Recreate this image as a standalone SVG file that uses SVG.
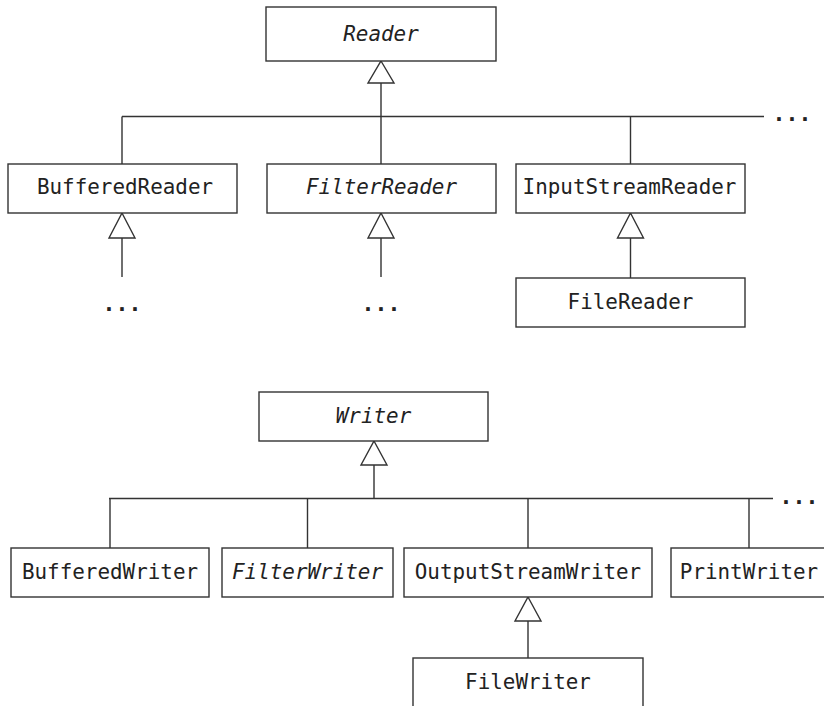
<svg xmlns="http://www.w3.org/2000/svg" width="824" height="706" viewBox="0 0 824 706">
<style>
.box{fill:#fff;stroke:#333;stroke-width:1.4}
.ln{fill:none;stroke:#333;stroke-width:1.4}
.tri{fill:#fff;stroke:#333;stroke-width:1.4;stroke-linejoin:miter}
text{font-family:"DejaVu Sans Mono","Liberation Mono",monospace;font-size:20.9px;fill:#222;text-anchor:middle}
.it{font-style:italic}
.dots{font-size:21.5px;font-weight:bold}
</style>
<rect width="824" height="706" fill="#fff"/>
<g id="connectors">
  <path class="ln" d="M381 83V116.5M122 116.5H764M122 116.5V164M381 116.5V164M630.5 116.5V164"/>
  <path class="ln" d="M122 238V277M381 238V277M630.5 238V278"/>
  <path class="ln" d="M374 465V498.5M109 498.5H773M110 498.5V548M307.5 498.5V548M528 498.5V548M749 498.5V548"/>
  <path class="ln" d="M528 621V658"/>
  <polygon class="tri" points="381,61 394,83 368,83"/>
  <polygon class="tri" points="122,213 135,238 109,238"/>
  <polygon class="tri" points="381,213 394,238 368,238"/>
  <polygon class="tri" points="630.5,213 643.5,238 617.5,238"/>
  <polygon class="tri" points="374,441 387,465 361,465"/>
  <polygon class="tri" points="528,597 541,621 515,621"/>
  <text class="dots" x="792" y="121">...</text>
  <text class="dots" x="122" y="311">...</text>
  <text class="dots" x="381" y="311">...</text>
  <text class="dots" x="799" y="504">...</text>
</g>
<g id="Reader"><rect class="box" x="266" y="7" width="230" height="54"/><text class="it" x="381" y="41">Reader</text></g>
<g id="BufferedReader"><rect class="box" x="8" y="164" width="229" height="49"/><text x="125" y="193.5">BufferedReader</text></g>
<g id="FilterReader"><rect class="box" x="267" y="164" width="229" height="49"/><text class="it" x="381.5" y="193.5">FilterReader</text></g>
<g id="InputStreamReader"><rect class="box" x="516" y="164" width="229" height="49"/><text x="629.5" y="193.5">InputStreamReader</text></g>
<g id="FileReader"><rect class="box" x="516" y="278" width="229" height="49"/><text x="630.5" y="309">FileReader</text></g>
<g id="Writer"><rect class="box" x="259" y="392" width="229" height="49"/><text class="it" x="373.5" y="423">Writer</text></g>
<g id="BufferedWriter"><rect class="box" x="11" y="548" width="198" height="49"/><text x="110" y="579">BufferedWriter</text></g>
<g id="FilterWriter"><rect class="box" x="222" y="548" width="171" height="49"/><text class="it" x="307.5" y="579">FilterWriter</text></g>
<g id="OutputStreamWriter"><rect class="box" x="404" y="548" width="248" height="49"/><text x="528" y="579">OutputStreamWriter</text></g>
<g id="PrintWriter"><rect class="box" x="671" y="548" width="156" height="49"/><text x="749" y="579">PrintWriter</text></g>
<g id="FileWriter"><rect class="box" x="413" y="658" width="230" height="49"/><text x="528" y="689">FileWriter</text></g>
</svg>
